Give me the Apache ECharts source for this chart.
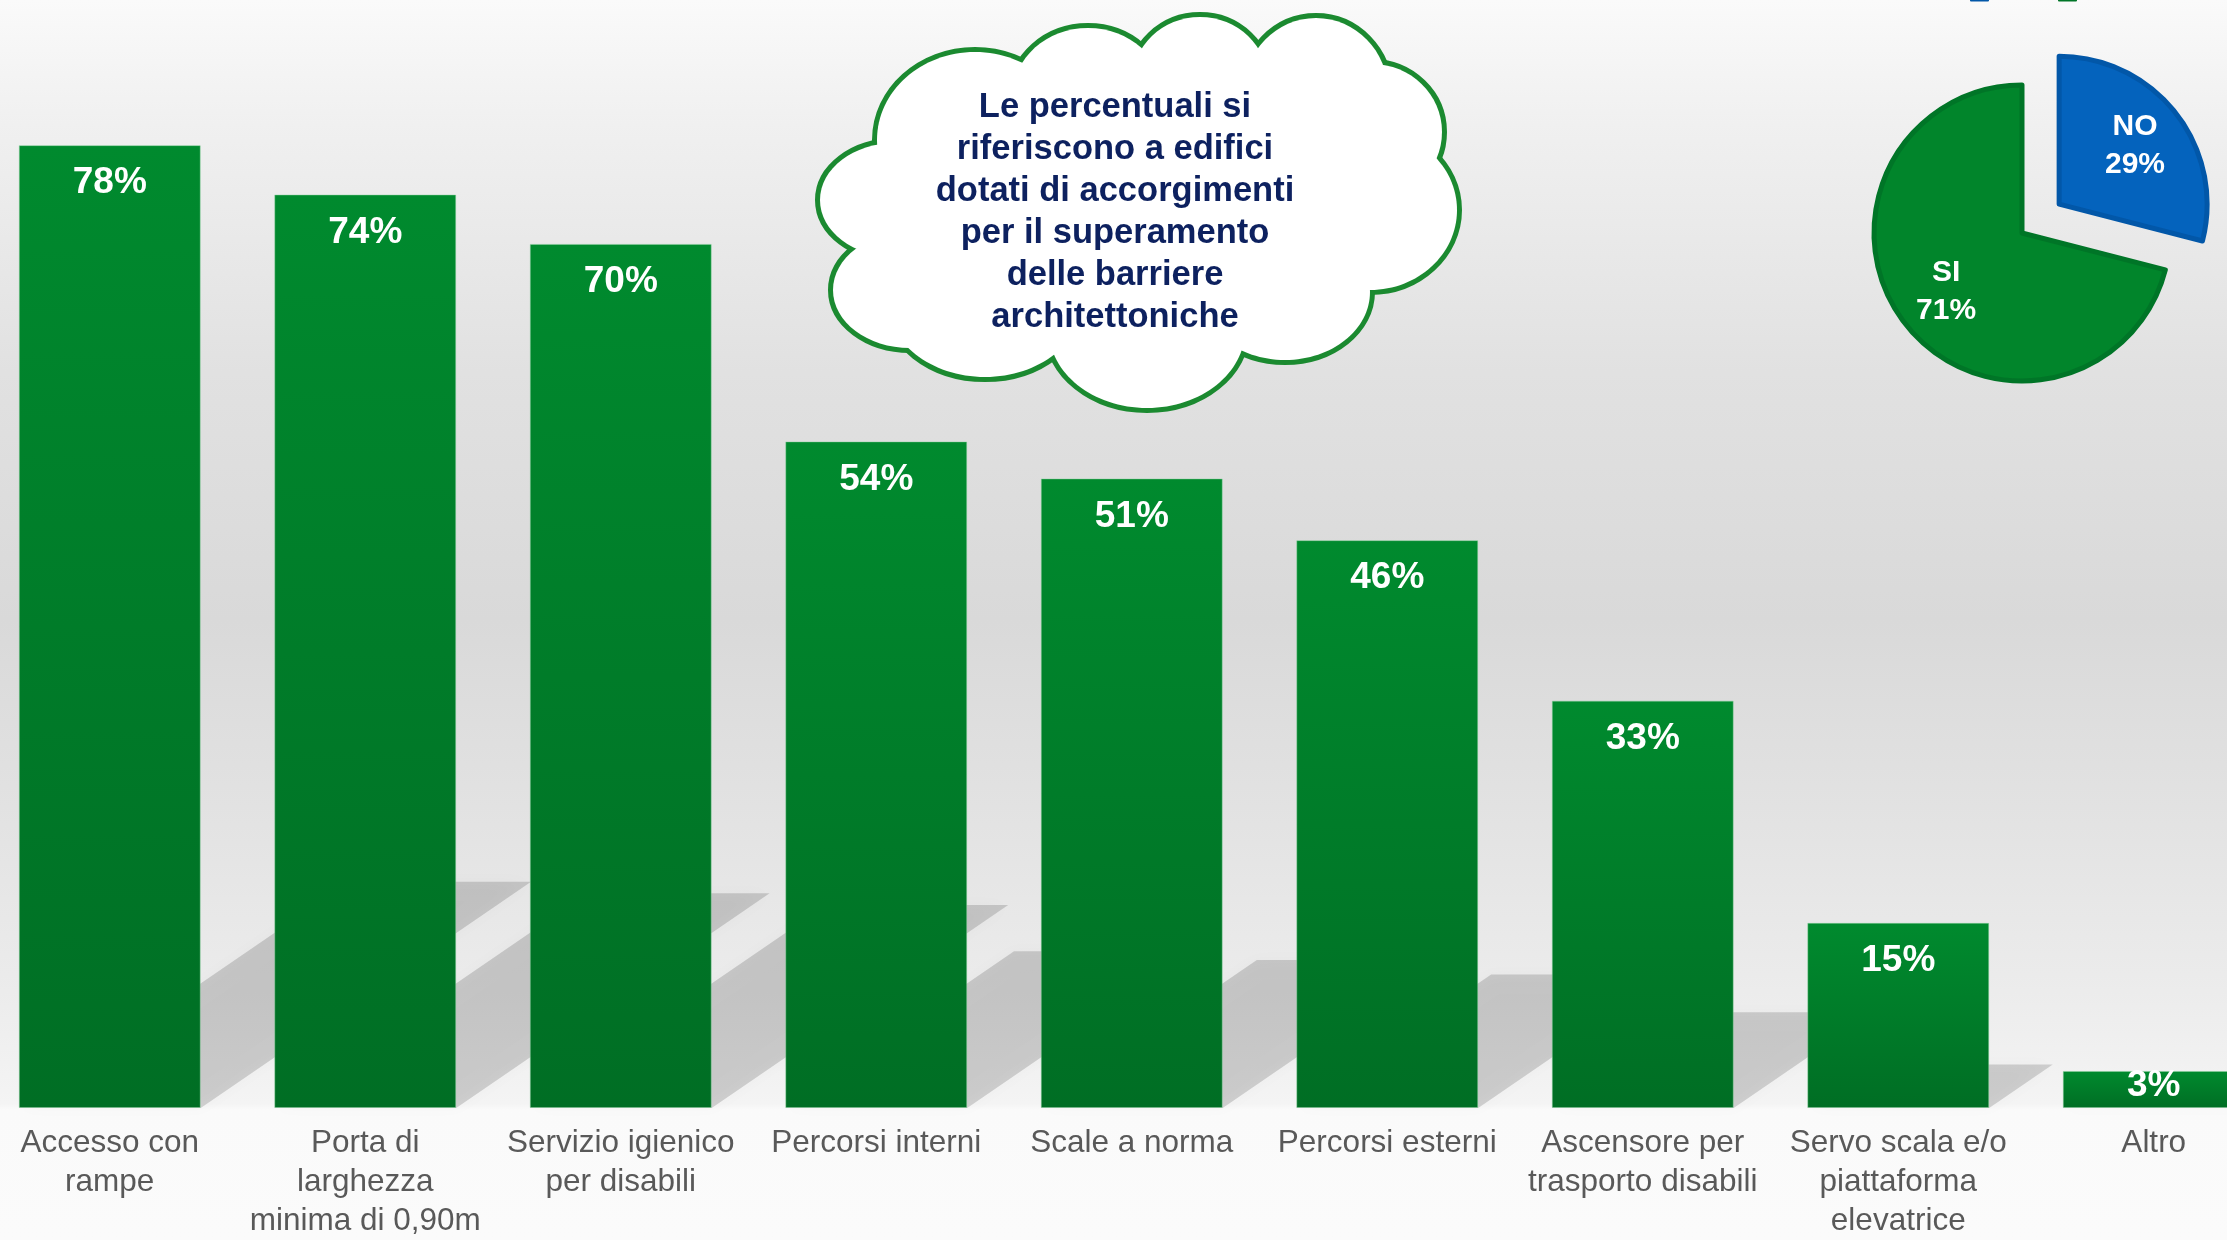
<!DOCTYPE html>
<html>
<head>
<meta charset="utf-8">
<script src="https://cdn.jsdelivr.net/npm/echarts@6/dist/echarts.min.js"></script>
<style>
html,body{margin:0;padding:0;width:2227px;height:1240px;overflow:hidden;}
#chart{width:2227px;height:1240px;}
</style>
</head>
<body>
<div id="chart"></div>
<script>
// ---- data ----
const categories = [
  'Accesso con\nrampe',
  'Porta di\nlarghezza\nminima di 0,90m',
  'Servizio igienico\nper disabili',
  'Percorsi interni',
  'Scale a norma',
  'Percorsi esterni',
  'Ascensore per\ntrasporto disabili',
  'Servo scala e/o\npiattaforma\nelevatrice',
  'Altro'
];
const values = [78, 74, 70, 54, 51, 46, 33, 15, 3];
const pieNames = ['NO', 'SI'];
const pieValues = [29, 71];
const noteLines = [
  'Le percentuali si',
  'riferiscono a edifici',
  'dotati di accorgimenti',
  'per il superamento',
  'delle barriere',
  'architettoniche'
];

// ---- style constants ----
const FONT = '"Liberation Sans", Arial, sans-serif';
const BAR_RATIO = 0.712;
const SHADOW_SCALE = 0.235;
const SHADOW_SKEW = 1.46;
const pieColors = { NO: '#0463bd', SI: '#01852b' };
const pieBorders = { NO: '#0257a8', SI: '#007527' };

const chart = echarts.init(document.getElementById('chart'), null, { renderer: 'canvas' });

const cloudEllipses = [
  [975, 140, 98, 88],
  [1088, 95, 75, 67],
  [1200, 82, 68, 65],
  [1316, 92, 72, 74],
  [1372, 132, 70, 68],
  [1370, 210, 87, 80],
  [1285, 292, 85, 68],
  [1147, 330, 98, 78],
  [985, 300, 98, 77],
  [910, 290, 77, 58],
  [895, 200, 75, 57]
];
const graphics = [];
cloudEllipses.forEach(e => graphics.push({
  type: 'ellipse', z: 10,
  shape: { cx: e[0], cy: e[1], rx: e[2], ry: e[3] },
  style: { fill: '#ffffff', stroke: '#1b8a30', lineWidth: 10 }
}));
cloudEllipses.forEach(e => graphics.push({
  type: 'ellipse', z: 11,
  shape: { cx: e[0], cy: e[1], rx: e[2], ry: e[3] },
  style: { fill: '#ffffff', stroke: null }
}));
graphics.push({
  type: 'ellipse', z: 11,
  shape: { cx: 1130, cy: 210, rx: 260, ry: 140 },
  style: { fill: '#ffffff' }
});
graphics.push({
  type: 'text', z: 12,
  x: 1115, y: 212,
  style: {
    text: noteLines.join('\n'),
    font: 'bold 34.5px ' + FONT,
    fill: '#0d215f',
    align: 'center',
    verticalAlign: 'middle',
    lineHeight: 42
  }
});

const pieData = pieNames.map((n, i) => ({
  name: n, value: pieValues[i], selected: n === 'NO',
  itemStyle: { color: pieColors[n], borderColor: pieBorders[n], borderWidth: 5 }
}));
const pieLabelData = pieNames.map((n, i) => ({
  name: n, value: pieValues[i], selected: n === 'NO',
  itemStyle: { color: 'rgba(0,0,0,0)' }
}));

const option = {
  animation: false,
  backgroundColor: new echarts.graphic.LinearGradient(0, 0, 0, 1, [
    { offset: 0, color: '#fafafa' },
    { offset: 0.1, color: '#f0f0f0' },
    { offset: 0.3, color: '#e1e1e1' },
    { offset: 0.5, color: '#d9d9d9' },
    { offset: 0.65, color: '#e2e2e2' },
    { offset: 0.8, color: '#ececec' },
    { offset: 0.89, color: '#f4f4f4' },
    { offset: 0.895, color: '#fafafa' },
    { offset: 1, color: '#fbfbfb' }
  ]),
  legend: {
    data: pieNames,
    left: 1970, top: -22, padding: 0,
    itemWidth: 17, itemHeight: 17, itemGap: 23,
    icon: 'rect',
    textStyle: { fontSize: 28, color: '#595959', fontFamily: FONT, padding: [0, 0, 0, 0] }
  },
  grid: {
    left: -18, width: 2299.5, top: -3, bottom: 132,
    containLabel: false, outerBoundsMode: 'none'
  },
  xAxis: {
    type: 'category', data: categories,
    axisLine: { show: false }, axisTick: { show: false },
    axisLabel: {
      interval: 0, margin: 16, fontSize: 31.5, lineHeight: 39,
      color: '#595959', fontFamily: FONT, hideOverlap: false
    }
  },
  yAxis: { type: 'value', min: 0, max: 90, show: false, splitLine: { show: false } },
  series: [
    {
      type: 'custom', z: 1, silent: true, clip: false,
      renderItem: function (params, api) {
        const idx = api.value(0);
        const v = api.value(1);
        const base = api.coord([idx, 0]);
        const bw = api.size([1, 0])[0] * BAR_RATIO;
        const h = api.size([0, v * SHADOW_SCALE])[1];
        const x0 = base[0] - bw / 2, x1 = base[0] + bw / 2, y = base[1];
        const dx = h * SHADOW_SKEW;
        return {
          type: 'polygon',
          shape: { points: [[x0, y], [x1, y], [x1 + dx, y - h], [x0 + dx, y - h]] },
          style: { fill: 'rgba(0,0,0,0.15)', shadowBlur: 16, shadowColor: 'rgba(0,0,0,0.15)' }
        };
      },
      data: values.map((v, i) => [i, v])
    },
    {
      type: 'bar', z: 3,
      barWidth: (BAR_RATIO * 100) + '%',
      data: values.map((v, i) => i === values.length - 1 ? {
        value: v,
        label: { distance: 0, lineHeight: 30 }
      } : v),
      itemStyle: {
        color: new echarts.graphic.LinearGradient(0, 0, 0, 1, [
          { offset: 0, color: '#008a2e' },
          { offset: 1, color: '#006e24' }
        ]),
        borderColor: 'rgba(140,210,160,0.45)', borderWidth: 1
      },
      label: {
        show: true, position: 'insideTop', distance: 18,
        formatter: '{c}%', color: '#ffffff', fontWeight: 'bold',
        fontSize: 37, lineHeight: 40, fontFamily: FONT
      }
    },
    {
      type: 'pie', name: 'pie', z: 5,
      center: [2022, 233], radius: 148,
      startAngle: 90, clockwise: true,
      selectedMode: 'single', selectedOffset: 47,
      label: { show: false }, labelLine: { show: false },
      emphasis: { disabled: true },
      data: pieData
    },
    {
      type: 'pie', name: 'pielabels', z: 6, silent: true,
      center: [2022, 233], radius: [38, 148],
      startAngle: 90, clockwise: true,
      selectedMode: 'single', selectedOffset: 47,
      labelLine: { show: false },
      emphasis: { disabled: true },
      label: {
        show: true, position: 'inside', formatter: '{b}\n{c}%',
        color: '#ffffff', fontWeight: 'bold', fontSize: 30, lineHeight: 38, fontFamily: FONT
      },
      data: pieLabelData
    }
  ],
  graphic: graphics
};
chart.setOption(option);
</script>
</body>
</html>
